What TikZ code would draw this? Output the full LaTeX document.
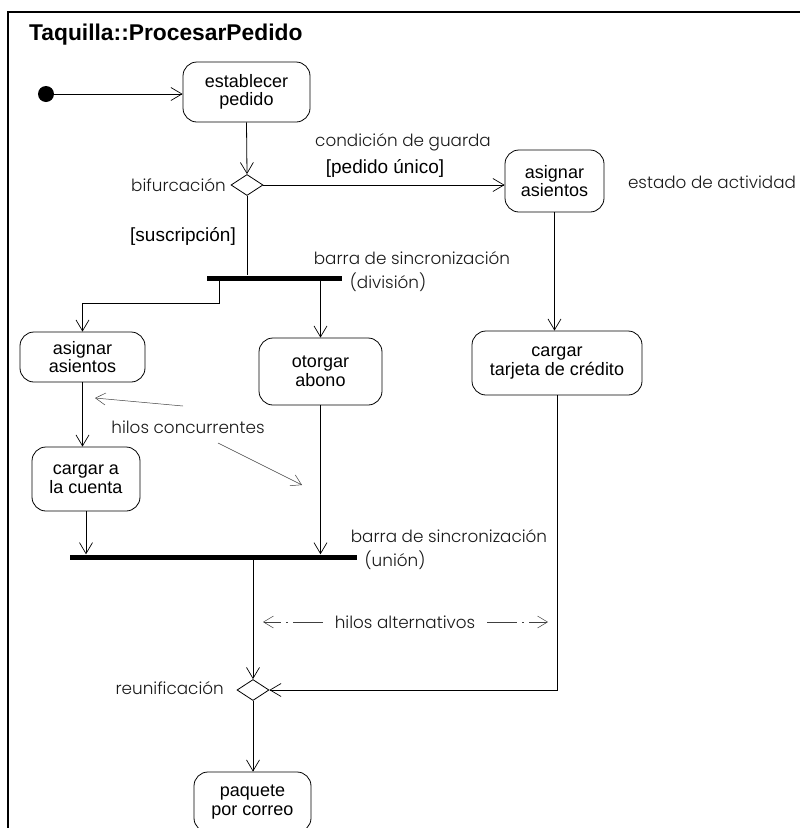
\documentclass[tikz,border=0pt]{standalone}
\usepackage{fontspec}
\setmainfont{Liberation Sans}
\newfontfamily\notefont{Poppins Light}
\usetikzlibrary{arrows.meta,shapes.geometric}

\begin{document}
\begin{tikzpicture}[x=1pt,y=-1pt,
  act/.style={draw, rounded corners=14pt, align=center, inner sep=0pt,
    font=\fontsize{18}{18.5}\selectfont, line width=0.8pt},
  flow/.style={-{Straight Barb[length=11pt,width=13pt,line width=0.7pt]}, line width=0.8pt},
  choice/.style={draw, diamond, minimum width=32pt, minimum height=21pt, inner sep=0pt, line width=0.8pt},
  syncbar/.style={fill=black, inner sep=0pt, minimum height=5pt},
  note/.style={font=\notefont\fontsize{16.8}{20}\selectfont, text=black!90, inner sep=0pt},
  guard/.style={font=\fontsize{19}{22}\selectfont, inner sep=0pt},
  noteflow/.style={-{Straight Barb[length=10pt,width=12pt,line width=0.5pt]}, line width=0.5pt, black!75},
  altflow/.style={noteflow, dash pattern=on 30pt off 5pt on 2pt off 5pt}]

\useasboundingbox (0,0) rectangle (800,828);

% frame of the activity
\draw[line width=1.5pt] (800,12) -- (8,12) -- (8,830);
\node[anchor=west, font=\bfseries\fontsize{22.8}{26}\selectfont, inner sep=0pt] (title) at (29,35) {Taquilla::ProcesarPedido};

% initial state
\node[circle, fill=black, minimum size=16pt, inner sep=0pt] (init) at (46,94) {};

% activity states
\node[act, minimum width=127pt, minimum height=60pt] (est) at (246.5,92) {establecer\\pedido};
\node[act, minimum width=99pt, minimum height=62pt] (asR) at (554.5,181) {asignar\\asientos};
\node[act, minimum width=125pt, minimum height=50pt] (asL) at (82.5,357) {asignar\\asientos};
\node[act, minimum width=123pt, minimum height=67pt] (oto) at (320.5,371.5) {otorgar\\abono};
\node[act, minimum width=170pt, minimum height=64pt] (tarj) at (557,363) {cargar\\tarjeta de crédito};
\node[act, minimum width=108pt, minimum height=64pt] (cta) at (86,479) {cargar a\\la cuenta};
\node[act, minimum width=117pt, minimum height=60pt] (paq) at (252.5,802) {paquete\\por correo};

% branch and merge
\node[choice] (fk) at (247,185) {};
\node[choice] (mg) at (253,690) {};

% synchronization bars
\node[syncbar, minimum width=135pt] (fork) at (274.5,278) {};
\node[syncbar, minimum width=287pt] (join) at (213.5,557) {};

% transitions
\draw[flow] (init) -- (init -| est.west);
\draw[flow] (est.south) -- (fk.north);
\draw[flow] (fk.east) -- (fk.east -| asR.west);
\draw[line width=0.8pt] (fk.south) -- (fk.south |- fork.north);
\coordinate (forkL) at (219,280);
\coordinate (bendL) at (219,303);
\draw[flow] (forkL) -- (bendL) -| (asL.north);
\draw[flow] (fork.south -| oto.north) -- (oto.north);
\draw[flow] (asR.south) -- (asR.south |- tarj.north);
\draw[flow] (asL.south) -- (asL.south |- cta.north);
\draw[flow] (cta.south) -- (cta.south |- join.north);
\draw[flow] (oto.south) -- (oto.south |- join.north);
\draw[flow] (join.south -| mg.north) -- (mg.north);
\draw[flow] (tarj.south) |- (mg.east);
\draw[flow] (mg.south) -- (mg.south |- paq.north);

% labels
\node[note, anchor=east] (lbif) at (226,185) {bifurcación};
\node[note] (lcond) at (403,142) {condición de guarda};
\node[guard] (lpu) at (385,168) {[pedido único]};
\node[guard] (lsus) at (183,236) {[suscripción]};
\node[note] (lestado) at (712,182) {estado de actividad};
\node[note] (lbar1) at (412,258) {barra de sincronización};
\node[note] (ldiv) at (388,282) {(división)};
\node[note] (lhc) at (188,427) {hilos concurrentes};
\node[note] (lbar2) at (449,536) {barra de sincronización};
\node[note] (luni) at (395,560) {(unión)};
\node[note, anchor=east] (lreu) at (224,688) {reunificación};
\node[note] (lalt) at (405,622) {hilos alternativos};

% pointers of the notes
\coordinate (hcTipA) at (95,398);
\coordinate (hcTipB) at (302,485);
\draw[noteflow] (183,406) -- (hcTipA);
\draw[noteflow] (218,443) -- (hcTipB);
\coordinate (altTipL) at (263,622);
\coordinate (altTipR) at (548,622);
\draw[altflow] ([xshift=-12pt]lalt.west) -- (altTipL);
\draw[altflow] ([xshift=12pt]lalt.east) -- (altTipR);
\end{tikzpicture}
\end{document}
